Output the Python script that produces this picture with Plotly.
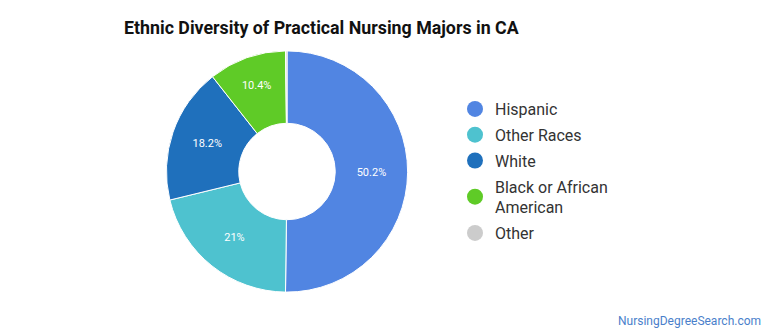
import plotly.graph_objects as go

categories = ["Hispanic", "Other Races", "White", "Black or African American", "Other"]
legend_labels = ["Hispanic", "Other Races", "White", "Black or African<br>American", "Other"]
values = [50.2, 21.0, 18.2, 10.4, 0.2]
value_labels = ["50.2%", "21%", "18.2%", "10.4%", ""]
colors = ["#5185E2", "#4EC2CF", "#1F70BC", "#5FCB27", "#CCCCCC"]

fig = go.Figure()
fig.add_trace(go.Pie(
    labels=categories, values=values, text=value_labels, textinfo="text",
    hole=0.4, sort=False, direction="clockwise", rotation=0,
    marker=dict(colors=colors, line=dict(color="white", width=1)),
    textfont=dict(color="white", size=11, family="Roboto"),
    insidetextorientation="horizontal", textposition="inside",
    domain=dict(x=[0.2156, 0.5299], y=[0.128, 0.848]),
    showlegend=False, hoverinfo="label+percent",
))
for i, (lab, col) in enumerate(zip(legend_labels, colors)):
    fig.add_trace(go.Scatter(
        x=[None], y=[None], mode="markers", name=lab,
        marker=dict(symbol="circle", size=16, color=col),
        legendgroup=f"g{i}", showlegend=True,
    ))

fig.update_layout(
    width=770, height=335, margin=dict(l=0, r=0, t=0, b=0),
    paper_bgcolor="white", plot_bgcolor="white",
    font=dict(family="Roboto", color="#333333"),
    title=dict(text="<b>Ethnic Diversity of Practical Nursing Majors in CA</b>",
               x=124/770, xanchor="left", y=1-28/335, yanchor="middle",
               font=dict(size=17.8, color="#111111", family="Roboto")),
    xaxis=dict(visible=False, domain=[0.95, 1.0]),
    yaxis=dict(visible=False, domain=[0.95, 1.0]),
    legend=dict(x=455/770, xanchor="left", y=1-92/335, yanchor="top",
                font=dict(size=16, color="#333333"), tracegroupgap=2,
                traceorder="grouped", bgcolor="rgba(0,0,0,0)"),
    annotations=[dict(text="NursingDegreeSearch.com", x=763/770, y=1-321/335,
                      xref="paper", yref="paper", xanchor="right", yanchor="middle",
                      showarrow=False, font=dict(size=12, color="#4A7FCB", family="Roboto"))],
)
fig.write_html("out.html")
